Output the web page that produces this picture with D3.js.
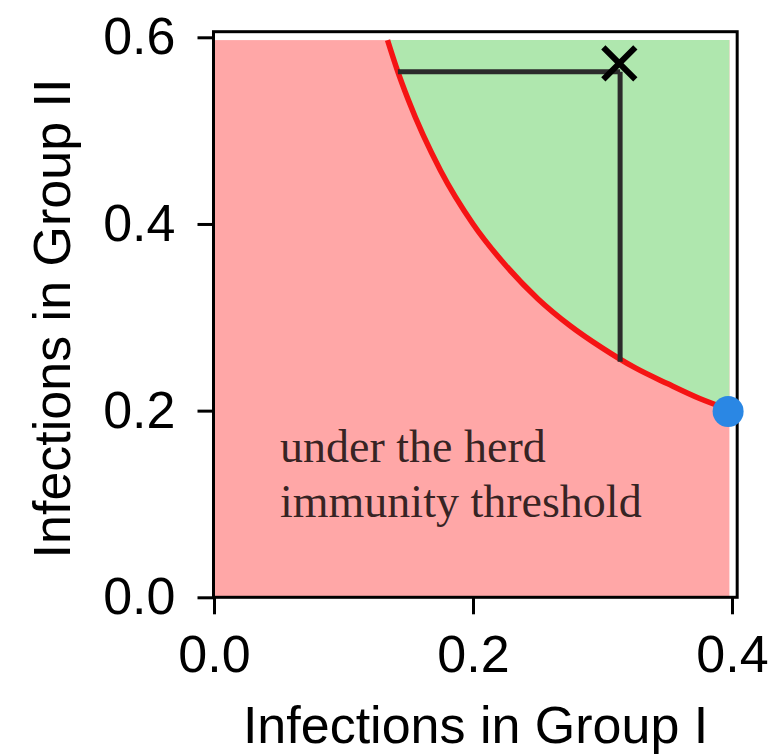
<!DOCTYPE html>
<html>
<head>
<meta charset="utf-8">
<script src="https://cdn.jsdelivr.net/npm/d3@7"></script>
<style>
  html, body { margin: 0; padding: 0; background: #fff; }
  svg { display: block; }
</style>
</head>
<body>
<svg id="chart" width="771" height="754"></svg>
<script>
// ---- data ----
const xTicks = [0.0, 0.2, 0.4];
const yTicks = [0.0, 0.2, 0.4, 0.6];
const xLimits = [0, 0.404];
const yLimits = [0, 0.606];
const regionX = [0, 0.398];          // extent of shaded region
const regionY = [0, 0.597];
// herd-immunity threshold curve
const curveX = [0.134, 0.141, 0.150, 0.175, 0.200, 0.225, 0.250, 0.275, 0.300, 0.325, 0.350, 0.375, 0.398];
const curveY = [0.597, 0.567, 0.533, 0.457, 0.400, 0.356, 0.320, 0.291, 0.267, 0.246, 0.229, 0.213, 0.201];
// guide lines and markers
const hLine = { x: [0.142, 0.3136], y: [0.563, 0.563] };
const vLine = { x: [0.3136, 0.3136], y: [0.563, 0.2525] };
const crossPoint = [0.313, 0.572];
const dotPoint = [0.397, 0.199];
const annotationLines = ["under the herd", "immunity threshold"];
const annotationAt = [0.051, 0.145];
const xLabel = "Infections in Group I";
const yLabel = "Infections in Group II";

// ---- drawing ----
const svg = d3.select("#chart");
const x = d3.scaleLinear().domain([0, 0.4]).range([214, 732]);
const y = d3.scaleLinear().domain([0, 0.6]).range([597.3, 37.3]);

const sansFont = "'Liberation Sans', Arial, Helvetica, sans-serif";
const serifFont = "'Liberation Serif', 'Times New Roman', serif";

// pink region (below threshold)
svg.append("rect")
  .attr("x", x(regionX[0])).attr("y", y(regionY[1]))
  .attr("width", x(regionX[1]) - x(regionX[0]))
  .attr("height", y(regionY[0]) - y(regionY[1]))
  .attr("fill", "#ffa7a7");

// green region (above threshold)
const curvePts = curveX.map((v, i) => [v, curveY[i]]);
const greenArea = d3.area()
  .x(d => x(d[0]))
  .y0(y(regionY[1]))
  .y1(d => y(d[1]))
  .curve(d3.curveMonotoneX);
svg.append("path").datum(curvePts)
  .attr("d", greenArea)
  .attr("fill", "#afe7ae");

// threshold curve
const line = d3.line().x(d => x(d[0])).y(d => y(d[1])).curve(d3.curveMonotoneX);
svg.append("path").datum(curvePts)
  .attr("d", line)
  .attr("fill", "none")
  .attr("stroke", "#f51414")
  .attr("stroke-width", 5.5);

// guide lines
[hLine, vLine].forEach(l => {
  svg.append("line")
    .attr("x1", x(l.x[0])).attr("y1", y(l.y[0]))
    .attr("x2", x(l.x[1])).attr("y2", y(l.y[1]))
    .attr("stroke", "#2b2b2b")
    .attr("stroke-width", 5);
});

// X marker
const cx = x(crossPoint[0]), cy = y(crossPoint[1]), h = 16;
svg.append("path")
  .attr("d", `M${cx - h},${cy - h}L${cx + h},${cy + h}M${cx - h},${cy + h}L${cx + h},${cy - h}`)
  .attr("stroke", "#000")
  .attr("stroke-width", 6)
  .attr("fill", "none");

// annotation
const ann = svg.append("text")
  .attr("x", x(annotationAt[0]))
  .attr("y", y(annotationAt[1]))
  .attr("font-family", serifFont)
  .attr("font-size", 46)
  .attr("fill", "#000")
  .attr("fill-opacity", 0.8);
annotationLines.forEach((t, i) => {
  ann.append("tspan")
    .attr("x", x(annotationAt[0]))
    .attr("dy", i === 0 ? 0 : 55)
    .text(t);
});

// frame
svg.append("rect")
  .attr("x", x(xLimits[0]) - 0.5).attr("y", y(yLimits[1]))
  .attr("width", x(xLimits[1]) - x(xLimits[0]) + 0.5)
  .attr("height", y(yLimits[0]) - y(yLimits[1]))
  .attr("fill", "none")
  .attr("stroke", "#000")
  .attr("stroke-width", 3);

// blue dot (drawn over frame)
svg.append("circle")
  .attr("cx", x(dotPoint[0])).attr("cy", y(dotPoint[1]))
  .attr("r", 15.5)
  .attr("fill", "#2a87e4");

// axes
const fmt = d3.format(".1f");
const xAxis = svg.append("g")
  .attr("transform", `translate(0,${y(0)})`)
  .call(d3.axisBottom(x).tickValues(xTicks).tickFormat(fmt).tickSize(17).tickPadding(21));
const yAxis = svg.append("g")
  .attr("transform", `translate(${x(0) - 0.5},0)`)
  .call(d3.axisLeft(y).tickValues(yTicks).tickFormat(fmt).tickSize(16).tickPadding(22));
[xAxis, yAxis].forEach(g => {
  g.select(".domain").remove();
  g.selectAll(".tick line").attr("stroke", "#000").attr("stroke-width", 3);
  g.selectAll(".tick text")
    .attr("font-family", sansFont)
    .attr("font-size", 52)
    .attr("fill", "#000");
});

// axis labels
svg.append("text")
  .attr("x", (x(xLimits[0]) + x(xLimits[1])) / 2)
  .attr("y", 743)
  .attr("text-anchor", "middle")
  .attr("font-family", sansFont)
  .attr("font-size", 52)
  .attr("fill", "#000")
  .text(xLabel);
svg.append("text")
  .attr("transform", `translate(70,${(y(yLimits[0]) + y(yLimits[1])) / 2 + 4}) rotate(-90)`)
  .attr("text-anchor", "middle")
  .attr("font-family", sansFont)
  .attr("font-size", 52)
  .attr("fill", "#000")
  .text(yLabel);
</script>
</body>
</html>
